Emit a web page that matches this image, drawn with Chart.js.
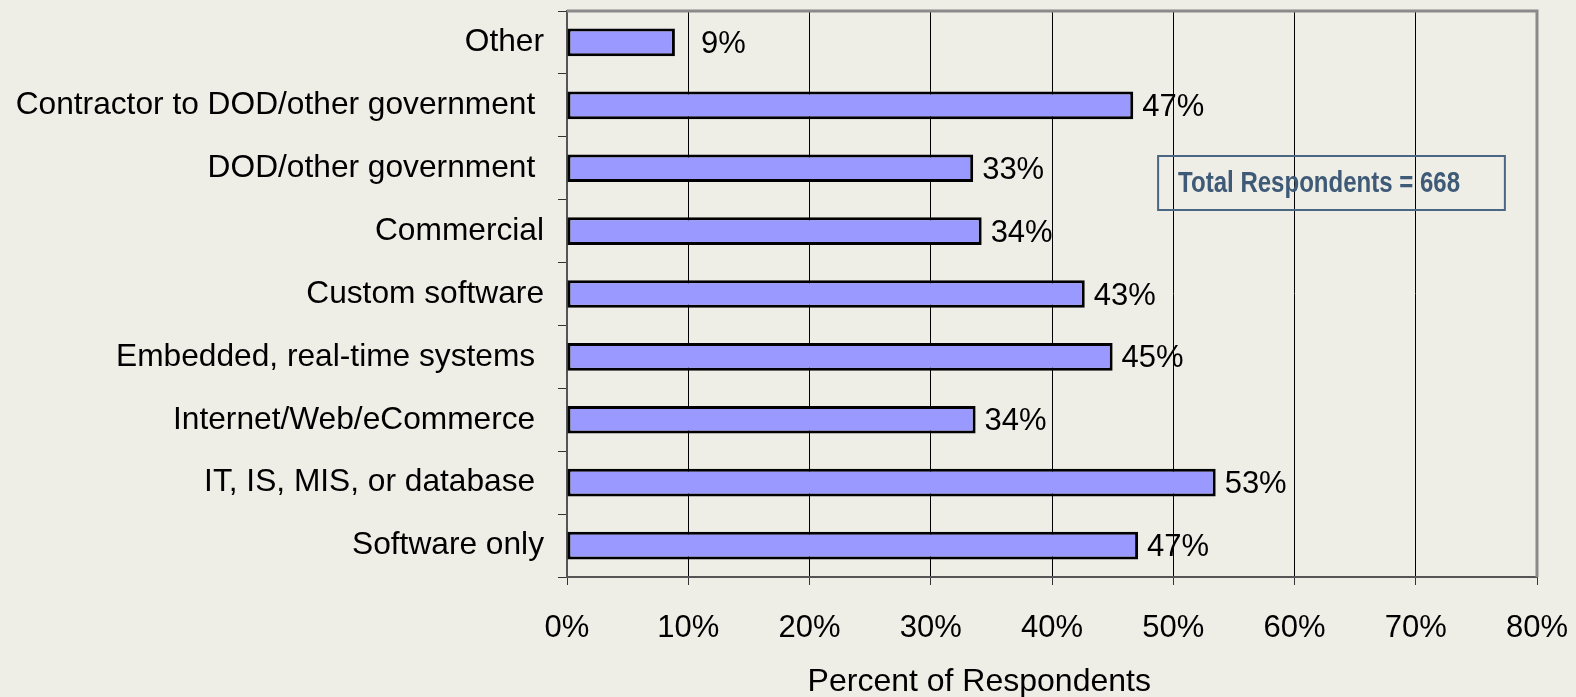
<!DOCTYPE html>
<html>
<head>
<meta charset="utf-8">
<script src="https://cdn.jsdelivr.net/npm/chart.js@4.4.1/dist/chart.umd.min.js"></script>
<style>
  html, body { margin: 0; padding: 0; background: #EEEDE6; }
  #wrap { width: 1576px; height: 697px; position: relative; }
</style>
</head>
<body>
<div id="wrap"><canvas id="c" width="1576" height="697"></canvas></div>
<script>
const categories = [
  "Other",
  "Contractor to DOD/other government ",
  "DOD/other government ",
  "Commercial",
  "Custom software",
  "Embedded, real-time systems ",
  "Internet/Web/eCommerce ",
  "IT, IS, MIS, or database ",
  "Software only"
];
const percentValues = [8.9, 46.7, 33.5, 34.2, 42.7, 45.0, 33.7, 53.5, 47.1];
const valueLabels = ["9%", "47%", "33%", "34%", "43%", "45%", "34%", "53%", "47%"];
const xTickValues = [0, 10, 20, 30, 40, 50, 60, 70, 80];
const axisTitle = "Percent of Respondents";
const noteText = "Total Respondents = 668";

const FONT = "'Liberation Sans', Arial, sans-serif";

const decorPlugin = {
  id: 'decor',
  afterDatasetsDraw(chart) {
    const ctx = chart.ctx;
    const meta = chart.getDatasetMeta(0);
    ctx.save();
    ctx.fillStyle = '#000';
    ctx.font = '31px ' + FONT;
    ctx.textAlign = 'right';
    ctx.textBaseline = 'middle';
    meta.data.forEach((bar, i) => {
      ctx.fillText(valueLabels[i], bar.x + 71, bar.y + 2);
    });
    ctx.restore();
  },
  afterDraw(chart) {
    const ctx = chart.ctx;
    const a = chart.chartArea;
    const xs = chart.scales.x;
    ctx.save();
    // top & right border
    ctx.strokeStyle = '#8a8a8a';
    ctx.lineWidth = 3;
    ctx.beginPath();
    ctx.moveTo(a.left, a.top);
    ctx.lineTo(a.right, a.top);
    ctx.lineTo(a.right, a.bottom);
    ctx.stroke();
    // axis title
    ctx.fillStyle = '#000';
    ctx.font = '32px ' + FONT;
    ctx.textAlign = 'center';
    ctx.textBaseline = 'middle';
    ctx.fillText(axisTitle, xs.getPixelForValue(34.0), 682);
    // note box
    const bx1 = xs.getPixelForValue(48.75), bx2 = xs.getPixelForValue(77.35);
    const by1 = 156, by2 = 210;
    ctx.strokeStyle = '#4B6683';
    ctx.lineWidth = 2;
    ctx.strokeRect(bx1, by1, bx2 - bx1, by2 - by1);
    ctx.fillStyle = '#3E5A77';
    ctx.font = "bold 30px 'Liberation Sans', Arial, sans-serif";
    ctx.textAlign = 'left';
    ctx.fillText(noteText, bx1 + 20, (by1 + by2) / 2 + 1, 282);
    ctx.restore();
  }
};

new Chart(document.getElementById('c'), {
  type: 'bar',
  data: {
    labels: categories,
    datasets: [{
      data: percentValues,
      backgroundColor: '#9999FF',
      borderColor: '#000000',
      borderWidth: 3,
      borderSkipped: false,
      categoryPercentage: 1.0,
      barPercentage: 0.44
    }]
  },
  options: {
    indexAxis: 'y',
    responsive: false,
    animation: false,
    devicePixelRatio: 1,
    layout: { padding: { top: 11, right: 39, left: 0, bottom: 0 } },
    plugins: { legend: { display: false }, tooltip: { enabled: false } },
    scales: {
      x: {
        type: 'linear',
        min: 0, max: 80,
        afterBuildTicks(scale) { scale.ticks = xTickValues.map(v => ({ value: v })); },
        afterFit(scale) {
          scale.height = 120;
          scale.paddingLeft = 0; scale.paddingRight = 0;
        },
        ticks: {
          callback: v => v + '%',
          color: '#000',
          font: { family: FONT, size: 31 },
          padding: 25,
          maxRotation: 0
        },
        grid: {
          color: ctx => (ctx.tick && (ctx.tick.value === 0 || ctx.tick.value === 80)) ? 'rgba(0,0,0,0)' : '#000',
          lineWidth: 1,
          tickLength: 8,
          tickColor: '#333'
        },
        border: { display: true, color: '#555', width: 2 }
      },
      y: {
        type: 'category',
        afterFit(scale) {
          scale.width = 567;
          scale.paddingTop = 0; scale.paddingBottom = 0;
        },
        ticks: {
          color: '#000',
          font: { family: FONT, size: 31.7 },
          padding: 14
        },
        grid: {
          offset: true,
          drawOnChartArea: false,
          drawTicks: true,
          tickLength: 9,
          tickColor: '#333'
        },
        border: { display: true, color: '#555', width: 2 }
      }
    }
  },
  plugins: [decorPlugin]
});
</script>
</body>
</html>
